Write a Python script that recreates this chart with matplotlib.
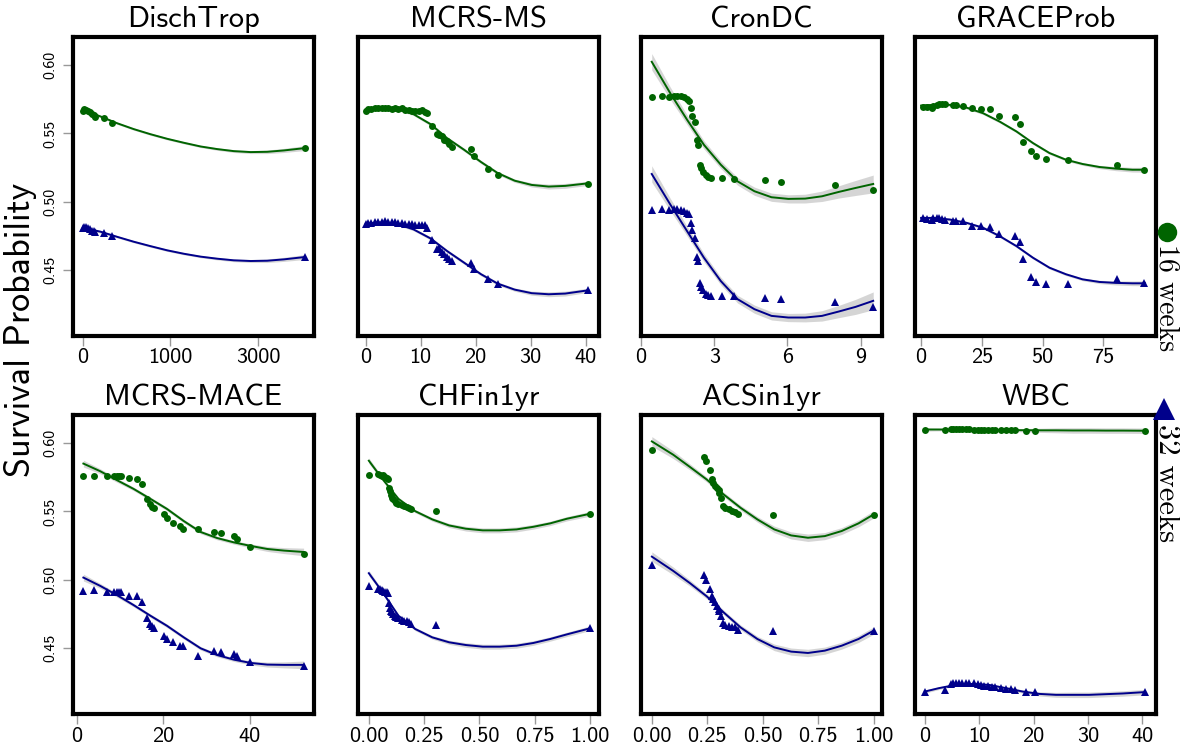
import numpy as np
import matplotlib.pyplot as plt
from matplotlib.lines import Line2D

GREEN = '#006400'
BLUE = '#00008b'
BAND = '#c8c8c8'

# DischTrop
disch_x = [0, 11, 27, 38, 54, 74, 88, 103, 178, 259, 4794]
disch_16w = [0.5667, 0.5680, 0.5672, 0.5665, 0.5660, 0.5641, 0.5636, 0.5624, 0.5612, 0.5575, 0.5393]
disch_32w = [0.4811, 0.4818, 0.4816, 0.4808, 0.4799, 0.4790, 0.4786, 0.4780, 0.4774, 0.4750, 0.4597]
disch_fit_x = [0, 150, 310, 495, 705, 950, 1225, 1540, 1895, 2305, 2775, 3305, 3915, 4795]
disch_fit_16w = [0.5672, 0.5624, 0.5575, 0.5532, 0.5495, 0.5461, 0.5432, 0.5405, 0.5386, 0.5371, 0.5364, 0.5366, 0.5376, 0.5393]
disch_fit_32w = [0.4811, 0.4782, 0.4745, 0.4709, 0.4677, 0.4646, 0.4621, 0.4600, 0.4585, 0.4573, 0.4568, 0.4570, 0.4580, 0.4597]
disch_band = [0.0012, 0.001, 0.0008, 0.0008, 0.0008, 0.0008, 0.0008, 0.0008, 0.0009, 0.001, 0.0011, 0.0013, 0.0015, 0.0018]

# MCRS-MS
ms_x = [0, 0.43, 1.04, 1.66, 2.27, 2.88, 3.5, 4.11, 4.72, 5.34, 5.95, 6.56, 7.18, 7.79, 8.4, 9.02, 9.63,
        10.25, 10.86, 11.17, 12.09, 13.0, 13.31, 13.93, 14.23, 14.72, 15.15, 15.77, 19.14, 19.75, 22.21, 24.05, 40.49]
ms_16w = [0.5665, 0.5680, 0.5680, 0.5684, 0.5684, 0.5684, 0.5689, 0.5684, 0.5680, 0.5684, 0.5680, 0.5684, 0.5672,
          0.5672, 0.5665, 0.5665, 0.5665, 0.5672, 0.5655, 0.5648, 0.5551, 0.5495, 0.5490, 0.5478, 0.5454, 0.5442,
          0.5422, 0.5398, 0.5386, 0.5337, 0.5240, 0.5194, 0.5131]
ms_32w = [0.4840, 0.4847, 0.4847, 0.4850, 0.4852, 0.4854, 0.4859, 0.4856, 0.4852, 0.4850, 0.4847, 0.4847, 0.4840,
          0.4840, 0.4835, 0.4832, 0.4830, 0.4830, 0.4828, 0.4806, 0.4718, 0.4653, 0.4660, 0.4635, 0.4617, 0.4597,
          0.4580, 0.4568, 0.4556, 0.4507, 0.4439, 0.4403, 0.4354]
ms_fit_x = [0, 2.6, 5.6, 8.7, 11.8, 14.8, 17.9, 21.0, 24.0, 27.1, 30.2, 33.3, 36.3, 40.5]
ms_fit_16w = [0.5675, 0.5684, 0.5680, 0.5641, 0.5568, 0.5466, 0.5381, 0.5291, 0.5211, 0.5155, 0.5124, 0.5112, 0.5117, 0.5136]
ms_fit_32w = [0.4840, 0.4850, 0.4840, 0.4799, 0.4733, 0.4641, 0.4556, 0.4471, 0.4403, 0.4359, 0.4333, 0.4325, 0.4330, 0.4354]
ms_band = [0.001, 0.001, 0.001, 0.001, 0.0012, 0.0012, 0.0012, 0.0012, 0.0012, 0.0012, 0.0015, 0.0018, 0.0018, 0.0015]

# CronDC
cron_x = [0.44, 0.86, 1.13, 1.34, 1.48, 1.62, 1.75, 1.89, 1.96, 2.06, 2.10, 2.20, 2.28, 2.33, 2.42, 2.47, 2.56,
          2.65, 2.75, 2.86, 3.34, 3.83, 5.10, 5.73, 7.97, 9.52]
cron_16w = [0.5769, 0.5777, 0.5769, 0.5777, 0.5777, 0.5774, 0.5765, 0.5752, 0.5738, 0.5684, 0.5631, 0.5583, 0.5454,
            0.5417, 0.5272, 0.5248, 0.5218, 0.5199, 0.5180, 0.5175, 0.5175, 0.5170, 0.5163, 0.5146, 0.5126, 0.5085]
cron_32w = [0.4944, 0.4951, 0.4944, 0.4951, 0.4951, 0.4944, 0.4937, 0.4920, 0.4908, 0.4847, 0.4791, 0.4733, 0.4597,
            0.4568, 0.4410, 0.4379, 0.4354, 0.4330, 0.4320, 0.4313, 0.4313, 0.4313, 0.4301, 0.4294, 0.4272, 0.4233]
cron_fit_x = [0.44, 1.2, 1.89, 2.58, 3.27, 3.96, 4.65, 5.35, 6.04, 6.73, 7.42, 8.11, 8.8, 9.52]
cron_fit_16w = [0.6024, 0.5794, 0.5600, 0.5417, 0.5272, 0.5150, 0.5078, 0.5034, 0.5022, 0.5024, 0.5041, 0.5073, 0.5102, 0.5131]
cron_fit_32w = [0.5204, 0.4981, 0.4786, 0.4592, 0.4422, 0.4289, 0.4216, 0.4167, 0.4155, 0.4155, 0.4167, 0.4199, 0.4233, 0.4277]
cron_band = [0.006, 0.0045, 0.0035, 0.003, 0.0028, 0.0028, 0.003, 0.003, 0.003, 0.0032, 0.0038, 0.0045, 0.0055, 0.0065]

# GRACEProb
grace_x = [0.95, 2.3, 4.4, 5.1, 6.4, 7.5, 8.5, 9.8, 13, 14.3, 17.3, 21.1, 24.8, 28.2, 32.1, 38.5, 40.5, 41.9,
           45.3, 47.1, 51.2, 60.3, 80.4, 91.7]
grace_16w = [0.5697, 0.5697, 0.5689, 0.5704, 0.5709, 0.5714, 0.5714, 0.5714, 0.5709, 0.5709, 0.5704, 0.5684,
             0.5680, 0.5680, 0.5631, 0.5624, 0.5568, 0.5437, 0.5369, 0.5333, 0.5316, 0.5308, 0.5267, 0.5235]
grace_32w = [0.4883, 0.4876, 0.4871, 0.4879, 0.4879, 0.4879, 0.4876, 0.4871, 0.4864, 0.4864, 0.4859, 0.4823,
             0.4823, 0.4816, 0.4762, 0.4750, 0.4709, 0.4580, 0.4451, 0.4417, 0.4403, 0.4403, 0.4434, 0.4410]
grace_fit_x = [0, 5, 11.9, 18.7, 25.5, 32.3, 39.2, 46, 52.8, 59.6, 66.4, 73.3, 80.1, 86.9, 92.1]
grace_fit_16w = [0.5704, 0.5709, 0.5709, 0.5689, 0.5648, 0.5587, 0.5515, 0.5430, 0.5357, 0.5308, 0.5277, 0.5255,
                 0.5243, 0.5235, 0.5235]
grace_fit_32w = [0.4883, 0.4883, 0.4871, 0.4847, 0.4811, 0.4750, 0.4677, 0.4592, 0.4519, 0.4471, 0.4434, 0.4415,
                 0.4408, 0.4405, 0.4405]
grace_band = [0.0012, 0.001, 0.001, 0.001, 0.001, 0.001, 0.001, 0.001, 0.001, 0.001, 0.001, 0.0012, 0.0015, 0.0017, 0.0018]

# MCRS-MACE
mace_x = [1.5, 4.0, 6.9, 8.6, 9.3, 9.7, 10.2, 12.0, 13.9, 15.1, 16.1, 16.8, 17.4, 17.8, 20.2, 20.8, 22.2, 23.8,
          24.6, 28.0, 31.8, 33.2, 36.4, 36.9, 40.0, 52.4]
mace_16w = [0.5757, 0.5762, 0.5757, 0.5757, 0.5757, 0.5762, 0.5757, 0.5745, 0.5738, 0.5704, 0.5592, 0.5558, 0.5534,
            0.5527, 0.5478, 0.5454, 0.5417, 0.5393, 0.5374, 0.5374, 0.5350, 0.5340, 0.5320, 0.5301, 0.5243, 0.5187]
mace_32w = [0.4920, 0.4927, 0.4913, 0.4913, 0.4913, 0.4913, 0.4908, 0.4883, 0.4879, 0.4840, 0.4718, 0.4677, 0.4660,
            0.4650, 0.4592, 0.4568, 0.4544, 0.4519, 0.4515, 0.4442, 0.4483, 0.4471, 0.4459, 0.4442, 0.4403, 0.4369]
mace_fit_x = [1.5, 5.4, 9.3, 13.1, 17, 20.8, 24.7, 28.6, 32.4, 36.3, 40.2, 44, 47.9, 52.4]
mace_fit_16w = [0.5850, 0.5794, 0.5728, 0.5665, 0.5592, 0.5519, 0.5430, 0.5350, 0.5306, 0.5274, 0.5248, 0.5226, 0.5214, 0.5204]
mace_fit_32w = [0.5017, 0.4956, 0.4888, 0.4816, 0.4738, 0.4665, 0.4580, 0.4500, 0.4451, 0.4417, 0.4393, 0.4381, 0.4379, 0.4379]
mace_band = [0.0025, 0.0018, 0.0015, 0.0013, 0.0013, 0.0013, 0.0013, 0.0013, 0.0013, 0.0013, 0.0015, 0.0018, 0.0022, 0.0028]

# CHFin1yr
chf_x = [0, 0.043, 0.05, 0.058, 0.065, 0.073, 0.08, 0.085, 0.091, 0.096, 0.1, 0.107, 0.11, 0.119, 0.125, 0.134,
         0.149, 0.16, 0.172, 0.18, 0.192, 0.305, 1.0]
chf_16w = [0.5769, 0.5774, 0.5769, 0.5762, 0.5765, 0.5752, 0.5745, 0.5738, 0.5672, 0.5648, 0.5624, 0.5600, 0.5590,
           0.5575, 0.5565, 0.5558, 0.5544, 0.5540, 0.5534, 0.5525, 0.5519, 0.5507, 0.5483]
chf_32w = [0.4956, 0.4937, 0.4932, 0.4927, 0.4922, 0.4913, 0.4908, 0.4903, 0.4830, 0.4791, 0.4776, 0.4762, 0.4750,
           0.4738, 0.4730, 0.4720, 0.4710, 0.4703, 0.4698, 0.4690, 0.4677, 0.4670, 0.4646]
chf_fit_x = [0, 0.058, 0.134, 0.21, 0.287, 0.363, 0.439, 0.515, 0.591, 0.668, 0.744, 0.82, 0.896, 1.0]
chf_fit_16w = [0.5871, 0.5745, 0.5592, 0.5502, 0.5442, 0.5398, 0.5374, 0.5362, 0.5362, 0.5369, 0.5388, 0.5413, 0.5447, 0.5483]
chf_fit_32w = [0.5049, 0.4920, 0.4738, 0.4641, 0.4580, 0.4544, 0.4524, 0.4512, 0.4512, 0.4519, 0.4539, 0.4568, 0.4602, 0.4646]
chf_band = [0.002, 0.0015, 0.0012, 0.0012, 0.0013, 0.0015, 0.0017, 0.0018, 0.0018, 0.0018, 0.0017, 0.0016, 0.0016, 0.0017]

# ACSin1yr
acs_x = [0, 0.237, 0.245, 0.26, 0.271, 0.278, 0.286, 0.293, 0.301, 0.305, 0.312, 0.321, 0.331, 0.347, 0.362,
         0.377, 0.388, 0.547, 1.0]
acs_16w = [0.5951, 0.5898, 0.5867, 0.5801, 0.5738, 0.5709, 0.5689, 0.5672, 0.5660, 0.5636, 0.5600, 0.5539, 0.5527,
           0.5515, 0.5502, 0.5495, 0.5478, 0.5471, 0.5471]
acs_32w = [0.5107, 0.5034, 0.5000, 0.4937, 0.4879, 0.4860, 0.4840, 0.4811, 0.4785, 0.4774, 0.4738, 0.4684, 0.4670,
           0.4660, 0.4653, 0.4653, 0.4636, 0.4629, 0.4629]
acs_fit_x = [0, 0.096, 0.172, 0.248, 0.324, 0.4, 0.476, 0.552, 0.628, 0.704, 0.78, 0.856, 0.932, 1.0]
acs_fit_16w = [0.6012, 0.5915, 0.5825, 0.5733, 0.5624, 0.5527, 0.5442, 0.5369, 0.5325, 0.5308, 0.5320, 0.5357, 0.5413, 0.5478]
acs_fit_32w = [0.5170, 0.5066, 0.4976, 0.4879, 0.4762, 0.4653, 0.4568, 0.4507, 0.4476, 0.4466, 0.4483, 0.4519, 0.4568, 0.4629]
acs_band = [0.0035, 0.0028, 0.0022, 0.0018, 0.0017, 0.0018, 0.002, 0.0024, 0.0026, 0.0027, 0.0026, 0.0025, 0.0025, 0.0027]

# WBC
wbc_x = [0, 3.7, 4.8, 5.2, 5.7, 6.3, 6.9, 7.5, 8.2, 9.1, 9.7, 10.3, 10.9, 11.7, 12.3, 12.9, 14.0, 14.9, 15.8,
         16.6, 18.6, 20.2, 40.4]
wbc_16w = [0.6097, 0.6097, 0.6102, 0.6102, 0.6102, 0.6102, 0.6102, 0.6102, 0.6102, 0.6097, 0.6097, 0.6097, 0.6097,
           0.6092, 0.6092, 0.6092, 0.6092, 0.6092, 0.6092, 0.6092, 0.6090, 0.6090, 0.6090]
wbc_32w = [0.4180, 0.4192, 0.4240, 0.4248, 0.4248, 0.4248, 0.4248, 0.4248, 0.4248, 0.4245, 0.4240, 0.4235, 0.4228,
           0.4223, 0.4216, 0.4214, 0.4209, 0.4206, 0.4202, 0.4197, 0.4184, 0.4180, 0.4180]
wbc_fit_x = [0, 2.6, 5.7, 8.8, 11.8, 14.9, 18, 21, 24.1, 27.2, 30.2, 33.3, 36.4, 40.4]
wbc_fit_16w = [0.6099, 0.6099, 0.6098, 0.6097, 0.6096, 0.6095, 0.6094, 0.6093, 0.6093, 0.6092, 0.6092, 0.6091, 0.6091, 0.6090]
wbc_fit_32w = [0.4184, 0.4209, 0.4233, 0.4240, 0.4233, 0.4209, 0.4184, 0.4167, 0.4160, 0.4160, 0.4160, 0.4165, 0.4170, 0.4180]
wbc_band = [0.0012, 0.001, 0.0008, 0.0008, 0.0008, 0.001, 0.0012, 0.0015, 0.0018, 0.002, 0.002, 0.002, 0.002, 0.002]

panels = [
    ("DischTrop", disch_x, disch_16w, disch_32w, disch_fit_x, disch_fit_16w, disch_fit_32w, disch_band),
    ("MCRS-MS", ms_x, ms_16w, ms_32w, ms_fit_x, ms_fit_16w, ms_fit_32w, ms_band),
    ("CronDC", cron_x, cron_16w, cron_32w, cron_fit_x, cron_fit_16w, cron_fit_32w, cron_band),
    ("GRACEProb", grace_x, grace_16w, grace_32w, grace_fit_x, grace_fit_16w, grace_fit_32w, grace_band),
    ("MCRS-MACE", mace_x, mace_16w, mace_32w, mace_fit_x, mace_fit_16w, mace_fit_32w, mace_band),
    ("CHFin1yr", chf_x, chf_16w, chf_32w, chf_fit_x, chf_fit_16w, chf_fit_32w, chf_band),
    ("ACSin1yr", acs_x, acs_16w, acs_32w, acs_fit_x, acs_fit_16w, acs_fit_32w, acs_band),
    ("WBC", wbc_x, wbc_16w, wbc_32w, wbc_fit_x, wbc_fit_16w, wbc_fit_32w, wbc_band),
]

x_ticks = [
    [0, 1000, 3000],
    [0, 10, 20, 30, 40],
    [0, 3, 6, 9],
    [0, 25, 50, 75],
    [0, 20, 40],
    [0, 0.25, 0.5, 0.75, 1.0],
    [0, 0.25, 0.5, 0.75, 1.0],
    [0, 10, 20, 30, 40],
]
x_tick_labels = [
    ["0", "1000", "3000"],
    ["0", "10", "20", "30", "40"],
    ["0", "3", "6", "9"],
    ["0", "25", "50", "75"],
    ["0", "20", "40"],
    ["0.00", "0.25", "0.50", "0.75", "1.00"],
    ["0.00", "0.25", "0.50", "0.75", "1.00"],
    ["0", "10", "20", "30", "40"],
]
x_limits = [(-76, 5240), (-1.4, 42.45), (0, 9.88), (-2.5, 96.6),
            (-0.9, 54.8), (-0.049, 1.041), (-0.049, 1.038), (-1.8, 42.5)]
y_ticks = [0.45, 0.50, 0.55, 0.60]
y_limits = (0.402, 0.6205)

W, H = 1180, 750
col_left = [73, 358, 641, 915]
row_top = [37, 415]
ax_w, ax_h = 241, 299

fig = plt.figure(figsize=(W / 100, H / 100), dpi=100)

for i, (title, x, y16, y32, fx, f16, f32, band) in enumerate(panels):
    row, col = divmod(i, 4)
    ax = fig.add_axes([col_left[col] / W, 1 - (row_top[row] + ax_h) / H, ax_w / W, ax_h / H])
    if i == 0:
        # troponin spans several orders of magnitude: squeeze the long tail
        ax.set_xscale('function', functions=(lambda v: np.log1p(np.asarray(v) / 1000.0),
                                             lambda t: 1000.0 * np.expm1(t)))
    fx = np.asarray(fx)
    band = np.asarray(band)
    for fit, colour in ((f16, GREEN), (f32, BLUE)):
        fit = np.asarray(fit)
        ax.fill_between(fx, fit - band, fit + band, color=BAND, alpha=0.75, lw=0, zorder=1)
        ax.plot(fx, fit, color=colour, lw=1.4, zorder=2)
    ax.plot(x, y16, 'o', color=GREEN, ms=5, mew=0, zorder=3)
    ax.plot(x, y32, '^', color=BLUE, ms=6, mew=0, zorder=3)

    ax.set_xlim(*x_limits[i])
    ax.set_ylim(*y_limits)
    ax.set_xticks(x_ticks[i])
    ax.set_xticklabels(x_tick_labels[i], fontfamily='cmss10', fontsize=16)
    ax.tick_params(axis='x', length=7, width=1, color='#999999', pad=2)
    if col == 0:
        ax.set_yticks(y_ticks)
        ax.set_yticklabels([f"{v:.2f}" for v in y_ticks], fontfamily='cmss10', fontsize=11.5,
                           rotation=90, va='center')
        ax.tick_params(axis='y', length=7, width=1, color='#999999', pad=4.5)
    else:
        ax.set_yticks([])
    for s in ax.spines.values():
        s.set_linewidth(3)
    ax.set_title(title, fontfamily='cmss10', fontsize=22, pad=7)

fig.text(21 / W, 1 - 330 / H, "Survival Probability", rotation=90, fontsize=26,
         ha='center', va='center', family='cmss10')

# group key on the right edge
fig.add_artist(Line2D([1167 / W], [1 - 232 / H], marker='o', color=GREEN, ms=14, mew=0,
                      transform=fig.transFigure))
fig.text(1167 / W, 1 - 244 / H, "16 weeks", rotation=270, fontsize=20, family='cmr10',
         ha='center', va='top')
fig.add_artist(Line2D([1164 / W], [1 - 409 / H], marker='^', color=BLUE, ms=16, mew=0,
                      transform=fig.transFigure))
fig.text(1167 / W, 1 - 424 / H, "32 weeks", rotation=270, fontsize=22, family='cmr10',
         ha='center', va='top')

fig.savefig("out.png", dpi=100)
